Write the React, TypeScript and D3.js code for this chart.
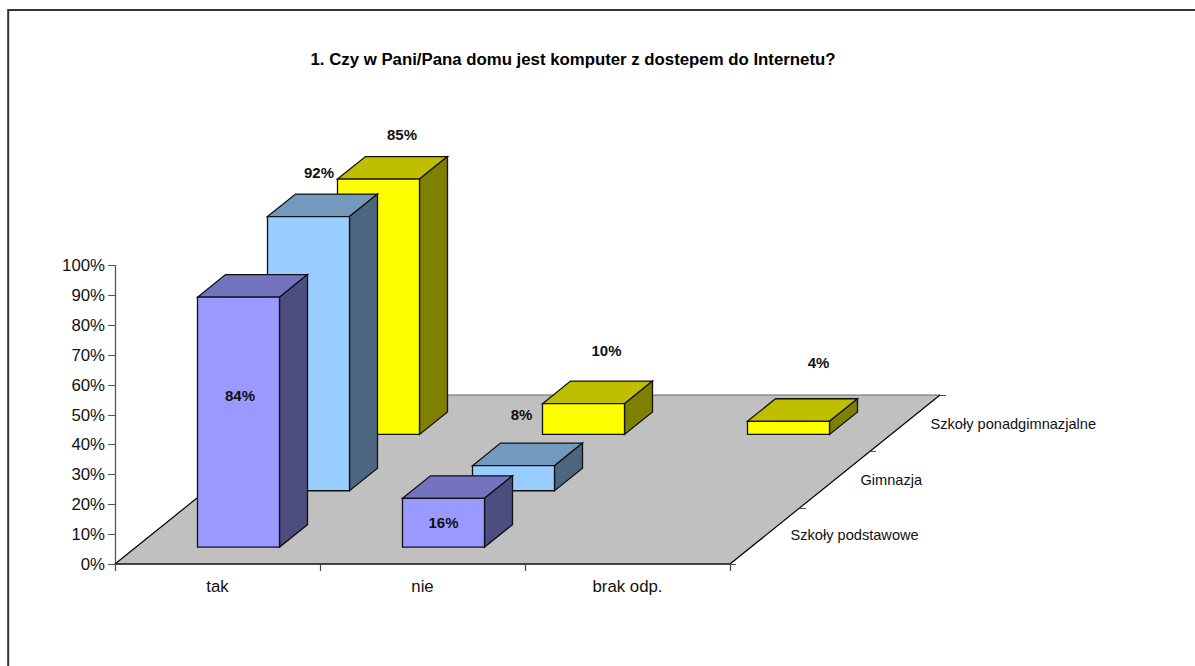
import React from "react";
import * as d3 from "d3";

const TITLE = "1. Czy w Pani/Pana domu jest komputer z dostepem do Internetu?";
const categories = ["tak", "nie", "brak odp."];
const seriesNames = ["Szkoły podstawowe", "Gimnazja", "Szkoły ponadgimnazjalne"];
const podstawowe: (number | null)[] = [83.6, 16.3, null];
const gimnazja: (number | null)[] = [91.7, 8.4, null];
const ponadgimnazjalne: (number | null)[] = [85.4, 10.3, 4.4];
const seriesValues = [podstawowe, gimnazja, ponadgimnazjalne];
const faceColors = [
  { front: "#9999FF", top: "#7373BF", side: "#4D4D80" },
  { front: "#99CCFF", top: "#7399BF", side: "#4D6680" },
  { front: "#FFFF00", top: "#BFBF00", side: "#808000" },
];
// label displacement from the centre of each bar's front-top edge (series, category)
const labelShift: Record<string, [number, number]> = {
  "0-0": [1.5, 99], "0-1": [0, 25],
  "1-0": [10.5, -44], "1-1": [8, -51],
  "2-0": [23.5, -44], "2-1": [23, -53], "2-2": [30, -58],
};

const FONT = "'Liberation Sans', Arial, sans-serif";

const uScale = d3.scaleLinear().domain([0, 3]).range([115, 730]);
const vxScale = d3.scaleLinear().domain([0, 3]).range([0, 210]);
const vyScale = d3.scaleLinear().domain([0, 3]).range([0, -169]);
const yScale = d3.scaleLinear().domain([0, 100]).range([564, 265]);
const line = d3.line<[number, number]>().curve(d3.curveLinearClosed);

const H0 = yScale(0);
const pt = (u: number, v: number, val = 0): [number, number] => [
  uScale(u) + vxScale(v),
  yScale(val) + vyScale(v),
];

function Bar({ s, c, value }: { s: number; c: number; value: number }) {
  const u0 = c + 0.3, u1 = c + 0.7, v0 = s + 0.3, v1 = s + 0.7;
  const col = faceColors[s];
  return (
    <g stroke="#111" strokeWidth={1.3} strokeLinejoin="miter">
      <path d={line([pt(u0, v0, value), pt(u0, v1, value), pt(u1, v1, value), pt(u1, v0, value)])!} fill={col.top} />
      <path d={line([pt(u1, v0, value), pt(u1, v1, value), pt(u1, v1), pt(u1, v0)])!} fill={col.side} />
      <path d={line([pt(u0, v0, value), pt(u1, v0, value), pt(u1, v0), pt(u0, v0)])!} fill={col.front} />
    </g>
  );
}

export default function App() {
  const drawOrder: { s: number; c: number; value: number }[] = [];
  for (let s = 2; s >= 0; s--) {
    categories.forEach((_, c) => {
      const value = seriesValues[s][c];
      if (value != null) drawOrder.push({ s, c, value });
    });
  }
  const floor = [pt(0, 0), pt(0, 3), pt(3, 3), pt(3, 0)];
  return (
    <svg
      width={1195}
      height={666}
      style={{ position: "absolute", left: 0, top: 0, background: "#fff" }}
      fontFamily={FONT}
    >
      <path d="M8.2,666V10H1195" fill="none" stroke="#333" strokeWidth={2} />
      <text x={573} y={65} textAnchor="middle" fontSize={16.8} fontWeight="bold" fill="#000">{TITLE}</text>

      <path d={line(floor)!} fill="#C0C0C0" stroke="none" />
      <line x1={pt(0, 3)[0]} y1={pt(0, 3)[1]} x2={pt(3, 3)[0]} y2={pt(3, 3)[1]} stroke="#666" strokeWidth={1} />
      <line x1={pt(0, 0)[0]} y1={H0} x2={pt(0, 3)[0]} y2={pt(0, 3)[1]} stroke="#000" strokeWidth={1.2} />
      <line x1={pt(3, 0)[0]} y1={H0} x2={pt(3, 3)[0]} y2={pt(3, 3)[1]} stroke="#000" strokeWidth={1.2} />

      {/* value axis */}
      <line x1={115.5} y1={yScale(0)} x2={115.5} y2={yScale(100)} stroke="#555" strokeWidth={1.3} />
      {yScale.ticks(10).map((t) => (
        <g key={t}>
          <line x1={108} x2={115.5} y1={Math.round(yScale(t)) + 0.5} y2={Math.round(yScale(t)) + 0.5} stroke="#555" />
          <text x={105} y={yScale(t) + 6} textAnchor="end" fontSize={16.8} fill="#111">{t}%</text>
        </g>
      ))}

      {/* category axis */}
      <line x1={115} x2={730} y1={564} y2={564} stroke="#111" strokeWidth={1.3} />
      {d3.range(0, 4).map((i) => (
        <line key={i} x1={Math.round(uScale(i)) + 0.5} x2={Math.round(uScale(i)) + 0.5} y1={564} y2={571} stroke="#444" strokeWidth={1.2} />
      ))}
      {categories.map((c, i) => (
        <text key={c} x={uScale(i + 0.5)} y={592} textAnchor="middle" fontSize={16.8} fill="#111">{c}</text>
      ))}

      {/* series axis */}
      {d3.range(0, 4).map((i) => {
        const [x, y] = pt(3, i);
        return <line key={i} x1={x} x2={x + 6} y1={Math.round(y) + 0.5} y2={Math.round(y) + 0.5} stroke="#555" />;
      })}
      {seriesNames.map((n, i) => {
        const [x, y] = pt(3, i + 0.5);
        return (
          <text key={n} x={x + 25.5} y={y + 4.5 + i * 0.5} fontSize={14.6} fill="#111">{n}</text>
        );
      })}

      {drawOrder.map((b) => (
        <Bar key={`${b.s}-${b.c}`} {...b} />
      ))}

      {drawOrder.map((b) => {
        const [x0, y0] = pt(b.c + 0.5, b.s + 0.3, b.value);
        const [dx, dy] = labelShift[`${b.s}-${b.c}`];
        return (
          <text key={`l${b.s}-${b.c}`} x={x0 + dx} y={y0 + dy + 5} textAnchor="middle" fontSize={15} fontWeight="bold" fill="#111">
            {Math.round(b.value)}%
          </text>
        );
      })}
    </svg>
  );
}
